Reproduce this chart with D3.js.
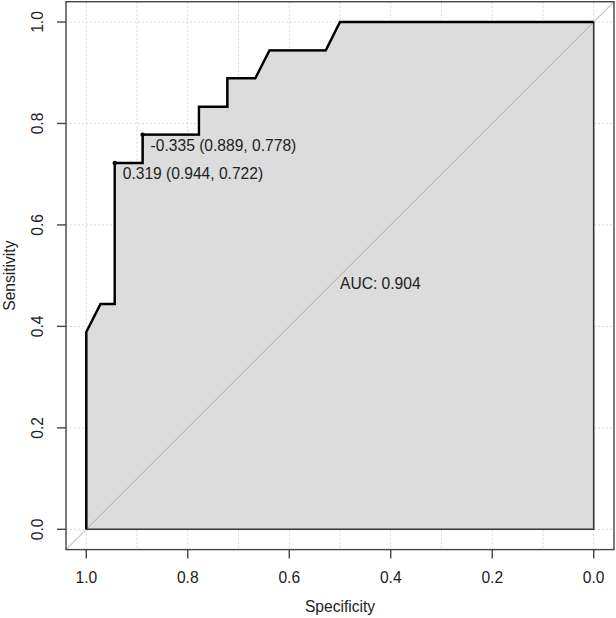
<!DOCTYPE html>
<html>
<head>
<meta charset="utf-8">
<script src="https://cdn.jsdelivr.net/npm/d3@7"></script>
<style>
  body { margin: 0; background: #fff; }
  text { font-family: "Liberation Sans", Arial, sans-serif; fill: #222; }
</style>
</head>
<body>
<svg id="chart" width="616" height="618"></svg>
<script>
// ROC curve points (specificity, sensitivity)
const specificity = [1.0, 1.0, 0.972, 0.944, 0.944, 0.889, 0.889, 0.778, 0.778, 0.722, 0.722, 0.667, 0.639, 0.528, 0.5, 0.0]
const sensitivity = [0.0, 0.389, 0.444, 0.444, 0.722, 0.722, 0.778, 0.778, 0.833, 0.833, 0.889, 0.889, 0.944, 0.944, 1.0, 1.0]

// best thresholds printed on the curve
const thresholds = ["-0.335", "0.319"]
const thresSpec = [0.889, 0.944]
const thresSens = [0.778, 0.722]

const aucValue = 0.904
const xTicks = [1.0, 0.8, 0.6, 0.4, 0.2, 0.0]
const yTicks = [0.0, 0.2, 0.4, 0.6, 0.8, 1.0]
const xGrid = d3.range(0, 11).map(d => d / 10)
const yGrid = [0.0, 0.2, 0.4, 0.6, 0.8, 1.0]

const svg = d3.select("#chart")
const fs = 15.6

// scales: spec runs 1 -> 0 from left to right
const x = d3.scaleLinear().domain([1, 0]).range([86.3, 593.7])
const y = d3.scaleLinear().domain([0, 1]).range([529.3, 22])
// plot region extends 4% past the data range (R style)
const box = {x0: x(1.04), x1: x(-0.04), y0: y(1.04), y1: y(-0.04)}

// grid (behind everything)
const grid = svg.append("g")
grid.selectAll(".gx").data(xGrid).enter().append("line")
    .attr("x1", d => x(d)).attr("x2", d => x(d))
    .attr("y1", box.y0).attr("y2", box.y1)
    .attr("stroke", "#d8d8d8").attr("stroke-dasharray", "2,2")
grid.selectAll(".gy").data(yGrid).enter().append("line")
    .attr("y1", d => y(d)).attr("y2", d => y(d))
    .attr("x1", box.x0).attr("x2", box.x1)
    .attr("stroke", "#d8d8d8").attr("stroke-dasharray", "2,2")

// AUC polygon
const pts = specificity.map((s, i) => [s, sensitivity[i]])
const polyPts = pts.concat([[0, 0]])
svg.append("path")
    .attr("d", d3.line().x(d => x(d[0])).y(d => y(d[1]))(polyPts) + "Z")
    .attr("fill", "#dcdcdc")
    .attr("stroke", "#333")
    .attr("stroke-width", 1.6)

// identity line, across the whole box
svg.append("line")
    .attr("x1", box.x0).attr("y1", box.y1)
    .attr("x2", box.x1).attr("y2", box.y0)
    .attr("stroke", "#a8a8a8").attr("stroke-width", 1)

// ROC curve
svg.append("path")
    .attr("d", d3.line().x(d => x(d[0])).y(d => y(d[1]))(pts))
    .attr("fill", "none")
    .attr("stroke", "#000")
    .attr("stroke-width", 2.4)
    .attr("stroke-linejoin", "miter")

// threshold points and labels
thresholds.forEach((t, i) => {
    svg.append("circle")
        .attr("cx", x(thresSpec[i])).attr("cy", y(thresSens[i]))
        .attr("r", 2.2).attr("fill", "#000")
    svg.append("text")
        .attr("x", x(thresSpec[i]) + 8)
        .attr("y", y(thresSens[i]) + 11)
        .attr("dy", "0.35em")
        .attr("font-size", fs)
        .text(t + " (" + thresSpec[i].toFixed(3) + ", " + thresSens[i].toFixed(3) + ")")
})

// AUC text
svg.append("text")
    .attr("x", x(0.5)).attr("y", y(0.5) + 8)
    .attr("dy", "0.35em")
    .attr("font-size", fs)
    .text("AUC: " + aucValue.toFixed(3))

// box
svg.append("rect")
    .attr("x", box.x0).attr("y", box.y0)
    .attr("width", box.x1 - box.x0).attr("height", box.y1 - box.y0)
    .attr("fill", "none").attr("stroke", "#444").attr("stroke-width", 1.4)

// x axis
const xAxis = svg.append("g")
xAxis.selectAll("line").data(xTicks).enter().append("line")
    .attr("x1", d => x(d)).attr("x2", d => x(d))
    .attr("y1", box.y1).attr("y2", box.y1 + 9)
    .attr("stroke", "#444").attr("stroke-width", 1.4)
xAxis.selectAll("text").data(xTicks).enter().append("text")
    .attr("x", d => x(d)).attr("y", 578)
    .attr("dy", "0.35em").attr("text-anchor", "middle")
    .attr("font-size", fs)
    .text(d => d.toFixed(1))

// y axis
const yAxis = svg.append("g")
yAxis.selectAll("line").data(yTicks).enter().append("line")
    .attr("y1", d => y(d)).attr("y2", d => y(d))
    .attr("x1", box.x0).attr("x2", box.x0 - 9)
    .attr("stroke", "#444").attr("stroke-width", 1.4)
yAxis.selectAll("text").data(yTicks).enter().append("text")
    .attr("transform", d => `translate(38,${y(d)}) rotate(-90)`)
    .attr("dy", "0.35em").attr("text-anchor", "middle")
    .attr("font-size", fs)
    .text(d => d.toFixed(1))

// axis titles
svg.append("text")
    .attr("x", (box.x0 + box.x1) / 2).attr("y", 607)
    .attr("dy", "0.35em").attr("text-anchor", "middle")
    .attr("font-size", fs)
    .text("Specificity")
svg.append("text")
    .attr("transform", `translate(10,${(box.y0 + box.y1) / 2}) rotate(-90)`)
    .attr("dy", "0.35em").attr("text-anchor", "middle")
    .attr("font-size", fs)
    .text("Sensitivity")
</script>
</body>
</html>
